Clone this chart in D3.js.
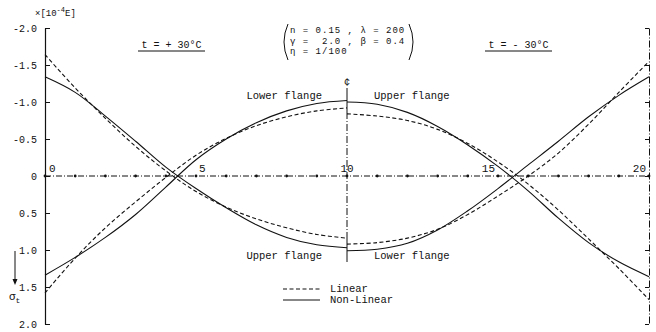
<!DOCTYPE html>
<html>
<head>
<meta charset="utf-8">
<script src="https://cdn.jsdelivr.net/npm/d3@7"></script>
<style>
  html, body { margin: 0; padding: 0; background: #fff; }
  svg { display: block; }
  text { font-family: "Liberation Mono", "DejaVu Sans Mono", monospace; fill: #111; white-space: pre; }
</style>
</head>
<body>
<svg id="chart" width="656" height="332"></svg>
<script>
// Girder span positions (x) and stress values sigma_t [x10^-4 E] (negative = upward on the plot)
const xLeft  = [0, 1, 2, 3, 4, 5, 6, 7, 8, 9, 10];
const xRight = [10, 11, 12, 13, 14, 15, 16, 17, 18, 19, 20];

// Left half: upper flange (falls to +) and lower flange (rises to -)
const upperLeftNonLinear  = [-1.34, -1.13, -0.81, -0.47, -0.12, 0.17, 0.43, 0.66, 0.83, 0.93, 0.97];
const upperLeftLinear     = [-1.64, -1.19, -0.78, -0.40, -0.07, 0.21, 0.42, 0.58, 0.70, 0.79, 0.84];
const lowerLeftNonLinear  = [1.34, 1.10, 0.83, 0.52, 0.15, -0.22, -0.50, -0.72, -0.88, -0.98, -1.02];
const lowerLeftLinear     = [1.58, 1.11, 0.70, 0.35, 0.02, -0.28, -0.51, -0.68, -0.80, -0.88, -0.92];

// Right half: upper flange (from - to +) and lower flange (from + to -)
const upperRightNonLinear = [-1.00, -0.97, -0.86, -0.67, -0.42, -0.13, 0.20, 0.57, 0.90, 1.16, 1.36];
const upperRightLinear    = [-0.84, -0.81, -0.75, -0.63, -0.44, -0.19, 0.11, 0.46, 0.85, 1.25, 1.67];
const lowerRightNonLinear = [1.01, 0.99, 0.91, 0.73, 0.47, 0.17, -0.15, -0.47, -0.80, -1.09, -1.34];
const lowerRightLinear    = [0.92, 0.90, 0.84, 0.72, 0.52, 0.27, 0.00, -0.31, -0.70, -1.13, -1.55];

const yTicks = [-2.0, -1.5, -1.0, -0.5, 0, 0.5, 1.0, 1.5, 2.0];
const yTickLabels = ["-2.0", "-1.5", "-1.0", "-0.5", "0", "0.5", "1.0", "1.5", "2.0"];
const xDots = d3.range(0, 21);
const xTickValues = [0, 5, 10, 15, 20];
const xTickLabels = ["0", "5", "10", "15", "20"];
const params = ["n = 0.15 , λ = 200", "γ =  2.0 , β = 0.4", "η = 1/100"];

const svg = d3.select("#chart");
const x = d3.scaleLinear().domain([0, 20]).range([45, 649]);
const y = d3.scaleLinear().domain([-2, 2]).range([28, 324]);
const ink = "#111";

// Left axis: ticks pointing into the plot, labels to the left
const leftAxis = d3.axisLeft(y).tickValues(yTicks)
  .tickSizeInner(-5).tickSizeOuter(0).tickPadding(8)
  .tickFormat((d, i) => yTickLabels[i]);
const gl = svg.append("g").attr("transform", `translate(${x(0)},0)`).call(leftAxis);
gl.select(".domain").attr("stroke", ink).attr("stroke-width", 1.2);
gl.selectAll(".tick line").attr("stroke", ink);
gl.selectAll(".tick text").style("font-size", "10px").attr("fill", ink)
  .style("font-family", "'Liberation Mono', monospace");

// Right axis: dash-dot border with inward ticks
const rightAxis = d3.axisRight(y).tickValues(yTicks)
  .tickSizeInner(-4).tickSizeOuter(0).tickFormat("");
const gr = svg.append("g").attr("transform", `translate(${x(20)},0)`).call(rightAxis);
gr.select(".domain").attr("stroke", ink).attr("stroke-dasharray", "7,2,1,2");
gr.selectAll(".tick line").attr("stroke", ink);

// Baseline (sigma = 0) with dots at every unit
svg.append("line")
  .attr("x1", x(0)).attr("x2", x(20)).attr("y1", y(0)).attr("y2", y(0))
  .attr("stroke", ink).attr("stroke-width", 1).attr("stroke-dasharray", "6,2,1,2");
svg.append("g").selectAll("circle").data(xDots).join("circle")
  .attr("cx", d => x(d)).attr("cy", y(0)).attr("r", 1.4).attr("fill", ink);

// Span labels along the baseline
const xLabelOffset = { 0: [4, "start"], 5: [3, "start"], 10: [0, "middle"], 15: [-3, "end"], 20: [-3, "end"] };
svg.append("g").selectAll("text").data(xTickValues).join("text")
  .attr("x", d => x(d) + xLabelOffset[d][0]).attr("y", y(0) - 4)
  .attr("text-anchor", d => xLabelOffset[d][1])
  .style("font-size", "11px").text((d, i) => xTickLabels[i]);

// Centre line of the span
svg.append("line").attr("x1", x(10)).attr("x2", x(10)).attr("y1", 88).attr("y2", 112)
  .attr("stroke", ink);
svg.append("line").attr("x1", x(10)).attr("x2", x(10)).attr("y1", 112).attr("y2", 238)
  .attr("stroke", ink).attr("stroke-dasharray", "7,2,1,2");
svg.append("line").attr("x1", x(10)).attr("x2", x(10)).attr("y1", 238).attr("y2", 262)
  .attr("stroke", ink);
svg.append("text").attr("x", x(10)).attr("y", 85).attr("text-anchor", "middle")
  .style("font-size", "10px").text("¢");

// Stress curves
const line = d3.line().x(d => x(d[0])).y(d => y(d[1])).curve(d3.curveCatmullRom.alpha(0.5));
const series = [
  [xLeft, upperLeftNonLinear, false], [xLeft, upperLeftLinear, true],
  [xLeft, lowerLeftNonLinear, false], [xLeft, lowerLeftLinear, true],
  [xRight, upperRightNonLinear, false], [xRight, upperRightLinear, true],
  [xRight, lowerRightNonLinear, false], [xRight, lowerRightLinear, true]
];
svg.append("g").selectAll("path").data(series).join("path")
  .attr("d", s => line(s[0].map((xv, i) => [xv, s[1][i]])))
  .attr("fill", "none").attr("stroke", ink).attr("stroke-width", 1.1)
  .attr("stroke-dasharray", s => s[2] ? "4,2.5" : null);

// Flange labels
const flangeLabels = [
  { t: "Lower flange", x: 322, y: 99, a: "end" },
  { t: "Upper flange", x: 374, y: 99, a: "start" },
  { t: "Upper flange", x: 322, y: 259, a: "end" },
  { t: "Lower flange", x: 374, y: 259, a: "start" }
];
svg.append("g").selectAll("text").data(flangeLabels).join("text")
  .attr("x", d => d.x).attr("y", d => d.y).attr("text-anchor", d => d.a)
  .style("font-size", "10.5px").text(d => d.t);

// Unit label
const unit = svg.append("text").attr("x", 35).attr("y", 16).style("font-size", "9px");
unit.append("tspan").text("×[10");
unit.append("tspan").attr("dy", -4).style("font-size", "7px").text("-4");
unit.append("tspan").attr("dy", 4).text("E]");

// sigma_t with downward arrow
svg.append("line").attr("x1", 15).attr("x2", 15).attr("y1", 251).attr("y2", 283).attr("stroke", ink);
svg.append("path").attr("d", "M12.5,279 L15,285 L17.5,279 Z").attr("fill", ink);
const sig = svg.append("text").attr("x", 9).attr("y", 300).style("font-size", "11px");
sig.append("tspan").text("σ");
sig.append("tspan").attr("dy", 3).style("font-size", "8px").text("t");

// Temperature cases
const temps = [
  { t: "t = + 30°C", x0: 138, x1: 205 },
  { t: "t = - 30°C", x0: 485, x1: 552 }
];
temps.forEach(d => {
  svg.append("text").attr("x", (d.x0 + d.x1) / 2).attr("y", 48).attr("text-anchor", "middle")
    .style("font-size", "10px").text(d.t);
  svg.append("line").attr("x1", d.x0).attr("x2", d.x1).attr("y1", 51).attr("y2", 51)
    .attr("stroke", ink);
});

// Parameter block in brackets
svg.append("g").selectAll("text").data(params).join("text")
  .attr("x", 290).attr("y", (d, i) => 33 + i * 10.5)
  .style("font-size", "9px").style("letter-spacing", "1px").text(d => d);
svg.append("path").attr("d", "M288,24 Q280,42 288,60").attr("fill", "none").attr("stroke", ink);
svg.append("path").attr("d", "M409,24 Q417,42 409,60").attr("fill", "none").attr("stroke", ink);

// Legend
const legend = [
  { t: "Linear", dash: "4,2.5", y: 289 },
  { t: "Non-Linear", dash: null, y: 300 }
];
legend.forEach(d => {
  svg.append("line").attr("x1", 283).attr("x2", 320).attr("y1", d.y).attr("y2", d.y)
    .attr("stroke", ink).attr("stroke-width", 1.1).attr("stroke-dasharray", d.dash);
  svg.append("text").attr("x", 330).attr("y", d.y + 3).style("font-size", "10.5px").text(d.t);
});
</script>
</body>
</html>
